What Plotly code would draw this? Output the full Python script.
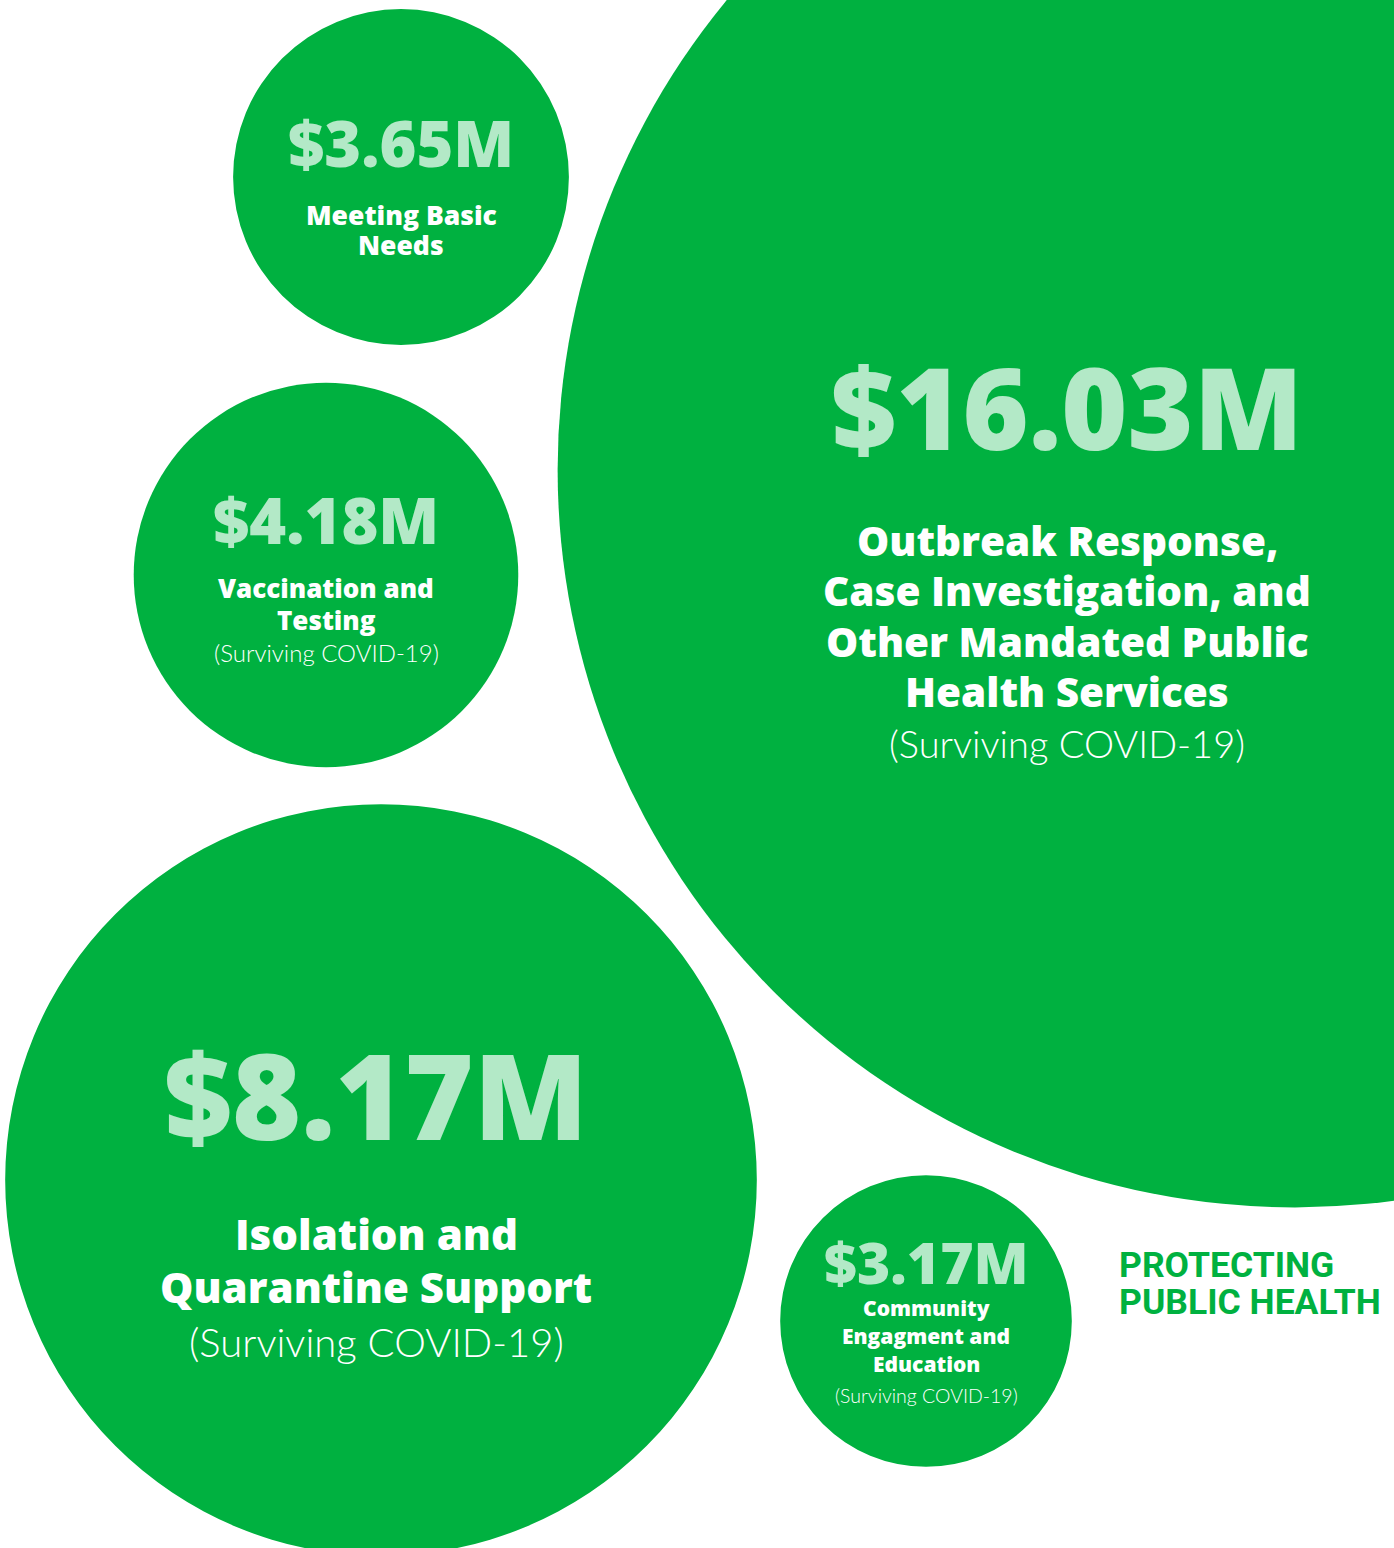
import plotly.graph_objects as go

# Spending by area, in millions of dollars
values = [3.65, 4.18, 16.03, 8.17, 3.17]
amount_labels = ["$3.65M", "$4.18M", "$16.03M", "$8.17M", "$3.17M"]
area_labels = [
    "Meeting Basic<br>Needs",
    "Vaccination and<br>Testing",
    "Outbreak Response,<br>Case Investigation, and<br>Other Mandated Public<br>Health Services",
    "Isolation and<br>Quarantine Support",
    "Community<br>Engagment and<br>Education",
]
sub_labels = ["", "(Surviving COVID-19)", "(Surviving COVID-19)",
              "(Surviving COVID-19)", "(Surviving COVID-19)"]

# Layout (pixel space): bubble centres, text anchors and font sizes
W, H = 1394, 1548
PX_PER_M = 46.0                      # bubble radius is proportional to value
centers_x = [401, 326, 1295, 381, 926]
centers_y = [177, 575, 470, 1180, 1321]
text_x = [401, 326, 1067, 376, 926]
amount_y = [142, 519, 406, 1094, 1262]
label_y = [230, 604, 616, 1260, 1336]
sub_y = [None, 652, 743, 1342, 1395]
amount_size = [63, 63, 113, 118, 57]
label_size = [26.5, 26, 40.5, 42, 21]
label_gap = [1.15, 1.2, 1.24, 1.25, 1.35]
sub_size = [0, 24, 38, 40, 19.5]

GREEN = "#00B140"
PALE = "#B3E9C7"
HEAVY = "Open Sans"
LIGHT = "Lato"

fig = go.Figure()

shapes = []
annotations = []
for i, v in enumerate(values):
    r = v * PX_PER_M
    shapes.append(dict(type="circle", xref="x", yref="y",
                       x0=centers_x[i] - r, x1=centers_x[i] + r,
                       y0=centers_y[i] - r, y1=centers_y[i] + r,
                       fillcolor=GREEN, line=dict(width=0), layer="below"))
    annotations.append(dict(x=text_x[i], y=amount_y[i], text=amount_labels[i],
                            showarrow=False, xanchor="center", yanchor="middle",
                            font=dict(family=HEAVY, size=amount_size[i], color=PALE, weight=800)))
    lines = area_labels[i].split("<br>")
    n = len(lines)
    step = label_size[i] * label_gap[i]
    for j, line in enumerate(lines):
        annotations.append(dict(x=text_x[i], y=label_y[i] + (j - (n - 1) / 2) * step,
                                text=line, showarrow=False, xanchor="center", yanchor="middle",
                                font=dict(family=HEAVY, size=label_size[i], color="white", weight=800)))
    if sub_labels[i]:
        annotations.append(dict(x=text_x[i], y=sub_y[i], text=sub_labels[i],
                                showarrow=False, xanchor="center", yanchor="middle",
                                font=dict(family=LIGHT, size=sub_size[i], color="white", weight=300)))

# Section heading
for k, line in enumerate(["PROTECTING", "PUBLIC HEALTH"]):
    annotations.append(dict(x=1117, y=1265 + k * 37, text=line, showarrow=False,
                            xanchor="left", yanchor="middle",
                            font=dict(family="Liberation Sans Narrow, Roboto, sans-serif",
                                      size=35.5, color=GREEN, weight=700)))

# invisible trace so the axes are initialised
fig.add_trace(go.Scatter(x=[0, W], y=[0, H], mode="markers",
                         marker=dict(opacity=0), hoverinfo="skip", showlegend=False))

fig.update_layout(
    width=W, height=H,
    margin=dict(l=0, r=0, t=0, b=0),
    paper_bgcolor="white", plot_bgcolor="white",
    shapes=shapes, annotations=annotations,
    xaxis=dict(range=[0, W], visible=False, fixedrange=True),
    yaxis=dict(range=[H, 0], visible=False, fixedrange=True),
)

fig.write_html("out.html", config={"displayModeBar": False})
